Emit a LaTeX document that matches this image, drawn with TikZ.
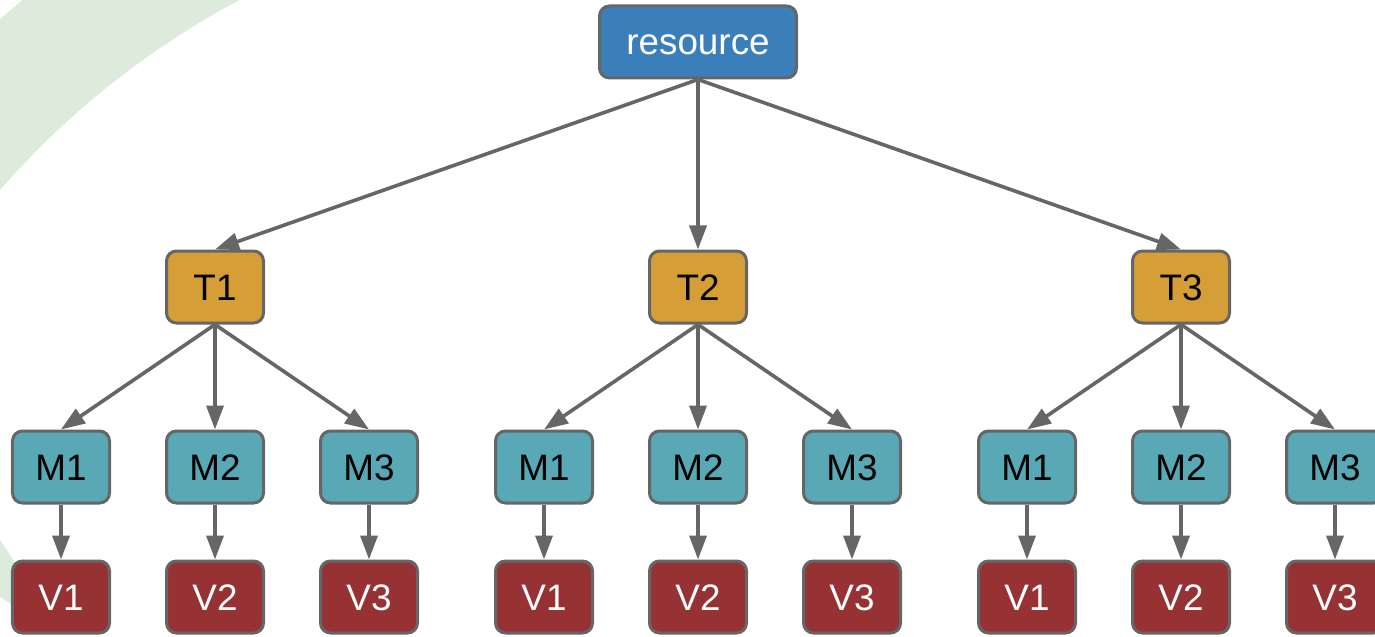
\documentclass[tikz,border=0pt]{standalone}
\usepackage{fontspec}
\setmainfont{Liberation Sans}
\usetikzlibrary{arrows.meta}
\definecolor{resblue}{RGB}{59,127,186}
\definecolor{torange}{RGB}{214,158,55}
\definecolor{mteal}{RGB}{88,168,181}
\definecolor{vred}{RGB}{150,50,52}
\definecolor{edgegray}{RGB}{102,102,102}
\definecolor{bggreen}{RGB}{221,235,221}
\begin{document}
\begin{tikzpicture}[x=1bp,y=-1bp,
  box/.style={draw=edgegray, line width=3bp, rounded corners=10bp,
    minimum width=97bp, minimum height=72bp, inner sep=0pt,
    text height=26bp, text depth=0pt,
    font=\fontsize{37}{44}\selectfont},
  rootbox/.style={box, fill=resblue, text=white, minimum width=197bp},
  tbox/.style={box, fill=torange, text=black},
  mbox/.style={box, fill=mteal, text=black},
  vbox/.style={box, fill=vred, text=white},
  link/.style={draw=edgegray, line width=3.6bp,
    -{Triangle[length=24bp,width=17bp]}}]
\useasboundingbox (0,0) rectangle (1375,637);
\clip (0,0) rectangle (1375,637);

% faint background bands
\begin{scope}
  \clip (0,0) rectangle (400,400);
  \fill[bggreen, even odd rule] (631,740) circle[radius=958]
                                (631,740) circle[radius=837];
\end{scope}
\fill[bggreen] (0,540) -- (24,576) -- (24,612) -- (0,597) -- cycle;

% tree
\node[rootbox] (res) at (698,42) {resource};
\foreach \g/\gx in {1/215,2/698,3/1181} {
  \node[tbox] (t\g) at (\gx,287) {T\g};
  \draw[link] (res.south) -- (t\g.north);
  \foreach \i/\dx in {1/-154,2/0,3/154} {
    \node[mbox] (m\g\i) at (\gx+\dx,467) {M\i};
    \node[vbox] (v\g\i) at (\gx+\dx,597) {V\i};
    \draw[link] (t\g.south) -- (m\g\i.north);
    \draw[link] (m\g\i.south) -- (v\g\i.north);
  }
}
\end{tikzpicture}
\end{document}
